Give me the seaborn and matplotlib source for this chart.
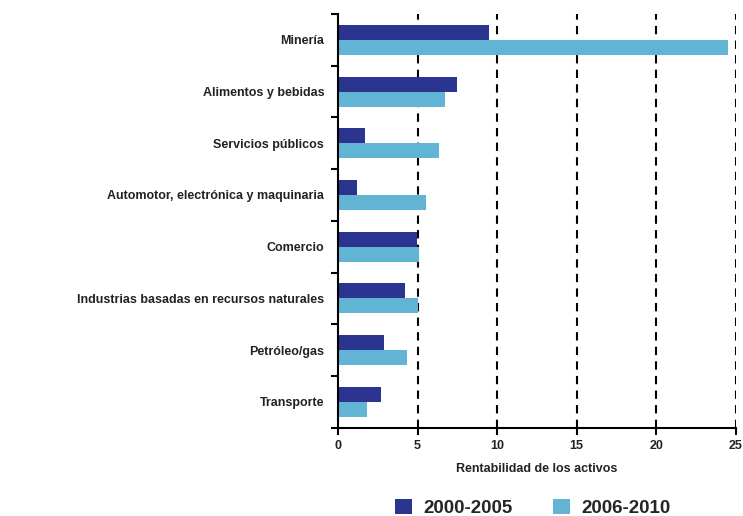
import matplotlib
matplotlib.use("Agg")
import matplotlib.pyplot as plt
import seaborn as sns
import pandas as pd
import numpy as np
from matplotlib.ticker import FixedLocator

categories = ["Minería", "Alimentos y bebidas", "Servicios públicos",
              "Automotor, electrónica y maquinaria", "Comercio",
              "Industrias basadas en recursos naturales", "Petróleo/gas", "Transporte"]
v_2000_2005 = [9.5, 7.5, 1.7, 1.2, 4.95, 4.2, 2.9, 2.7]
v_2006_2010 = [24.5, 6.7, 6.35, 5.5, 5.1, 5.05, 4.35, 1.8]
series = ["2000-2005", "2006-2010"]
xticks = [0, 5, 10, 15, 20, 25]

df = pd.DataFrame({
    "cat": categories * 2,
    "val": v_2000_2005 + v_2006_2010,
    "serie": [series[0]] * len(categories) + [series[1]] * len(categories),
})

sns.set_style("white")
plt.rcParams["font.family"] = ["Liberation Sans", "DejaVu Sans"]

fig = plt.figure(figsize=(7.43, 5.16), dpi=100)
ax = fig.add_axes([0.455, 0.171, 0.535, 0.802])

sns.barplot(data=df, y="cat", x="val", hue="serie", order=categories,
            hue_order=series, palette=["#2b3590", "#62b4d4"], width=0.58,
            orient="h", ax=ax, legend=True, saturation=1, linewidth=0)

ax.set_xlim(0, 25)
ax.set_ylim(len(categories) - 0.5, -0.5)
ax.set_xticks(xticks)
ax.set_xticklabels([str(t) for t in xticks], fontsize=9, fontweight="bold", color="#222222")
for x in xticks[1:]:
    ax.axvline(x, color="black", linestyle=(0, (4, 3)), linewidth=1.5, zorder=0)

ax.yaxis.set_minor_locator(FixedLocator(np.arange(-0.5, len(categories), 1.0)))
ax.tick_params(axis="y", which="major", length=0, pad=10)
ax.tick_params(axis="y", which="minor", length=5, width=1.5, color="black", direction="out", left=True)
ax.tick_params(axis="x", which="major", length=5, width=1.5, color="black", direction="out", bottom=True)
for lab in ax.get_yticklabels():
    lab.set_fontsize(9)
    lab.set_fontweight("bold")
    lab.set_color("#222222")

for s in ["top", "right"]:
    ax.spines[s].set_visible(False)
for s in ["left", "bottom"]:
    ax.spines[s].set_color("black")
    ax.spines[s].set_linewidth(1.5)

ax.set_ylabel("")
ax.set_xlabel("Rentabilidad de los activos", fontsize=9, fontweight="bold", color="#222222", labelpad=8)

ax.legend(loc="center", bbox_to_anchor=(0.49, -0.193), ncol=2, frameon=False,
          prop={"size": 13.5, "weight": "bold"}, handlelength=0.9, handleheight=0.9,
          columnspacing=2.2, handletextpad=0.6, borderpad=0.05)

fig.savefig("out.png", dpi=100)
